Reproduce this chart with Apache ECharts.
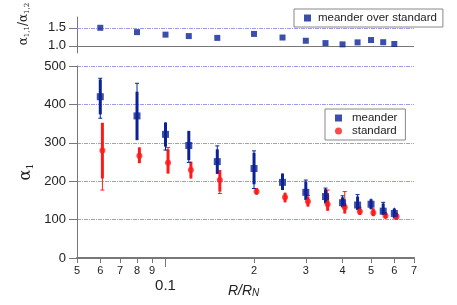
<!DOCTYPE html>
<html><head><meta charset="utf-8">
<script src="https://cdn.jsdelivr.net/npm/echarts@6/dist/echarts.min.js"></script>
<style>html,body{margin:0;padding:0;background:#fff}#c{width:457px;height:305px}</style>
</head><body><div id="c"></div>
<script>
// ---- data ----
const xTicks = [0.05,0.06,0.07,0.08,0.09,0.1,0.2,0.3,0.4,0.5,0.6,0.7];
const xLabelTicksA = [0.05,0.06,0.08,0.09,0.2,0.3,0.4,0.5,0.6,0.7];
const xLabelsA = ['5','6','8','9','2','3','4','5','6','7'];
const xLabelTicksB = [0.07];
const xLabelsB = ['7'];
const xDecadeTicks = [0.1];
const xDecadeLabels = ['0.1'];
const ratioTicks = [1.0, 1.5];

const rMeander = [0.06,0.08,0.1,0.12,0.15,0.2,0.25,0.3,0.35,0.4,0.45,0.5,0.55,0.6];
const rStandard = [0.061,0.0815,0.102,0.122,0.153,0.204,0.255,0.305,0.356,0.407,0.458,0.509,0.56,0.611];

const ratioValues = [1.50,1.38,1.31,1.27,1.22,1.33,1.23,1.14,1.075,1.04,1.095,1.16,1.10,1.05];

const meanderVal    = [420,370,322,293,251,233,197,171,160,144,138,140,122,116];
const meanderLo     = [374,307,290,255,219,192,177,151,142,132,125,127,112,103];
const meanderHi     = [465,433,353,331,283,274,220,199,179,158,160,153,142,129];
const meanderLoOut  = [364,307,281,249,219,181,177,151,142,132,125,127,112,103];
const meanderHiOut  = [468,455,353,331,292,279,220,203,182,162,165,155,145,131];

const standardVal   = [280,266,248,229,203,173,158,147,140,132,121,118,110,108];
const standardLo    = [207,247,220,207,173,165,145,134,123,116,112,109,103,99];
const standardHi    = [352,288,283,251,229,182,170,160,165,143,134,129,120,118];
const standardLoOut = [177,247,220,207,168,165,145,134,123,116,112,109,103,99];
const standardHiOut = [352,288,288,251,229,182,170,163,177,173,134,129,120,118];

// ---- build ----
const BLUE = '#0b2296', RED = '#ff1a1a', GRID = '#9a9af2', AX = '#777';
const FONT = 'Liberation Sans';

function rows(r, v, lo, hi, lo2, hi2){ return r.map((x,i)=>[x, v[i], lo[i], hi[i], lo2[i], hi2[i]]); }
function pairs(r, v){ return r.map((x,i)=>[x, v[i]]); }

function errRender(color){
  return function(params, api){
    const x = api.value(0);
    const c = api.coord([x, api.value(1)]);
    const tl = api.coord([x, api.value(2)]), th = api.coord([x, api.value(3)]);
    const ol = api.coord([x, api.value(4)]), oh = api.coord([x, api.value(5)]);
    const ch = [];
    ch.push({type:'line', shape:{x1:c[0],y1:ol[1],x2:c[0],y2:oh[1]}, style:{stroke:color,lineWidth:1}});
    if (ol[1]-tl[1] > 1) ch.push({type:'line', shape:{x1:c[0]-2,y1:ol[1],x2:c[0]+2,y2:ol[1]}, style:{stroke:color,lineWidth:1}});
    if (th[1]-oh[1] > 1) ch.push({type:'line', shape:{x1:c[0]-2,y1:oh[1],x2:c[0]+2,y2:oh[1]}, style:{stroke:color,lineWidth:1}});
    ch.push({type:'line', shape:{x1:c[0],y1:tl[1],x2:c[0],y2:th[1]}, style:{stroke:color,lineWidth:3}});
    return {type:'group', children:ch};
  };
}

function labelFor(ticks, labels){
  return function(v){
    let best = 0, bd = Infinity;
    ticks.forEach((t,i)=>{ const d = Math.abs(Math.log(v) - Math.log(t)); if (d < bd){ bd = d; best = i; } });
    return bd > 0.02 ? '' : labels[best];
  };
}

function labelAxis(ticks, labels, size, margin, tickLen){
  return {type:'log', gridIndex:1, min:0.05, max:0.7, position:'bottom', offset:0,
    axisLine:{show:false},
    axisTick:{show:tickLen > 0, customValues:ticks, length:tickLen, lineStyle:{color:AX}},
    axisLabel:{customValues:ticks, hideOverlap:false, margin:margin, color:'#222', fontSize:size, fontFamily:FONT,
      formatter:labelFor(ticks, labels)},
    splitLine:{show:false}, minorTick:{show:false}};
}

const chart = echarts.init(document.getElementById('c'), null, {renderer:'canvas'});

chart.setOption({
  animation:false,
  textStyle:{fontFamily:FONT},
  grid:[
    {left:77, right:43, top:17, height:36},
    {left:77, right:43, top:66, height:192}
  ],
  xAxis:[
    {type:'log', gridIndex:0, min:0.05, max:0.7, show:false},
    {type:'log', gridIndex:1, min:0.05, max:0.7,
      axisLine:{lineStyle:{color:AX, width:2}},
      axisTick:{customValues:xTicks, length:5, lineStyle:{color:AX}},
      axisLabel:{customValues:xLabelTicksA, hideOverlap:false, showMinLabel:true, showMaxLabel:true,
        margin:7, color:'#222', fontSize:11, fontFamily:FONT, formatter:labelFor(xLabelTicksA, xLabelsA)},
      splitLine:{show:false}, minorTick:{show:false}},
    labelAxis(xLabelTicksB, xLabelsB, 11, 7, 0),
    labelAxis(xDecadeTicks, xDecadeLabels, 15, 20, 9)
  ],
  yAxis:[
    {type:'value', gridIndex:0, min:0.8, max:1.8,
      axisLine:{show:true, lineStyle:{color:AX}},
      axisTick:{show:true, customValues:ratioTicks, length:8, lineStyle:{color:AX}},
      axisLabel:{customValues:ratioTicks, margin:11, fontSize:13, color:'#222', fontFamily:FONT,
        formatter:v=>Number(v).toFixed(1)},
      splitLine:{show:false}},
    {type:'value', gridIndex:1, min:0, max:500, interval:100,
      axisLine:{show:true, lineStyle:{color:AX}},
      axisTick:{show:true, length:8, lineStyle:{color:AX}},
      axisLabel:{margin:11, fontSize:13, color:'#222', fontFamily:FONT},
      splitLine:{show:true, lineStyle:{color:GRID, type:[4,1,1,1], width:1}}}
  ],
  legend:[
    {data:['meander over standard'], left:294, top:9, orient:'horizontal',
      icon:'rect', itemWidth:7, itemHeight:7, itemGap:0,
      padding:[3,6,3,10], backgroundColor:'#fff', borderColor:'#888', borderWidth:1, borderRadius:0,
      textStyle:{fontSize:11.5, color:'#222', fontFamily:FONT, padding:[0,0,0,2]}},
    {data:[{name:'meander', icon:'rect'},{name:'standard', icon:'circle'}], left:325, top:109, orient:'vertical',
      itemWidth:7, itemHeight:7, itemGap:1,
      padding:[3,8,3,10], backgroundColor:'#fff', borderColor:'#888', borderWidth:1, borderRadius:0,
      textStyle:{fontSize:11.5, color:'#222', fontFamily:FONT, padding:[0,0,0,5]}}
  ],
  series:[
    {name:'meander over standard', type:'scatter', xAxisIndex:0, yAxisIndex:0,
      symbol:'rect', symbolSize:6, itemStyle:{color:BLUE}, data:pairs(rMeander, ratioValues), z:5,
      markLine:{silent:true, symbol:['none','none'], label:{show:false}, animation:false,
        data:[
          {yAxis:1.5, lineStyle:{color:GRID, type:[4,1,1,1], width:1}},
          {yAxis:1.0, lineStyle:{color:AX, type:'solid', width:1}}
        ]}},
    {name:'standardErr', type:'custom', xAxisIndex:1, yAxisIndex:1, renderItem:errRender(RED),
      encode:{x:0, y:[1,4,5]}, data:rows(rStandard, standardVal, standardLo, standardHi, standardLoOut, standardHiOut), z:2},
    {name:'meanderErr', type:'custom', xAxisIndex:1, yAxisIndex:1, renderItem:errRender(BLUE),
      encode:{x:0, y:[1,4,5]}, data:rows(rMeander, meanderVal, meanderLo, meanderHi, meanderLoOut, meanderHiOut), z:3},
    {name:'standard', type:'scatter', xAxisIndex:1, yAxisIndex:1, symbol:'circle', symbolSize:6,
      itemStyle:{color:RED}, data:pairs(rStandard, standardVal), z:4},
    {name:'meander', type:'scatter', xAxisIndex:1, yAxisIndex:1, symbol:'rect', symbolSize:7,
      itemStyle:{color:BLUE}, data:pairs(rMeander, meanderVal), z:5}
  ],
  graphic:[
    {type:'text', left:228, top:284, style:{
      text:'{i|R/R}{s|N}', rich:{
        i:{fontSize:14, fontStyle:'italic', fontFamily:FONT, fill:'#222', verticalAlign:'bottom', lineHeight:18},
        s:{fontSize:10, fontStyle:'italic', fontFamily:FONT, fill:'#222', verticalAlign:'bottom', lineHeight:13}}}},
    {type:'text', x:26, y:172, rotation:Math.PI/2, style:{
      text:'{a|α}{s|1}', align:'center', verticalAlign:'middle', rich:{
        a:{fontSize:16, fontFamily:'DejaVu Serif', fill:'#222'},
        s:{fontSize:10, fontFamily:'DejaVu Serif', fill:'#222', padding:[8,0,0,0]}}}},
    {type:'text', x:24, y:24, rotation:Math.PI/2, style:{
      text:'{a|α}{s|1,1}{a|/α}{s|1,2}', align:'center', verticalAlign:'middle', rich:{
        a:{fontSize:12, fontFamily:'DejaVu Serif', fill:'#222'},
        s:{fontSize:7, fontFamily:'DejaVu Serif', fill:'#222', padding:[6,0,0,0]}}}}
  ]
});
</script></body></html>
